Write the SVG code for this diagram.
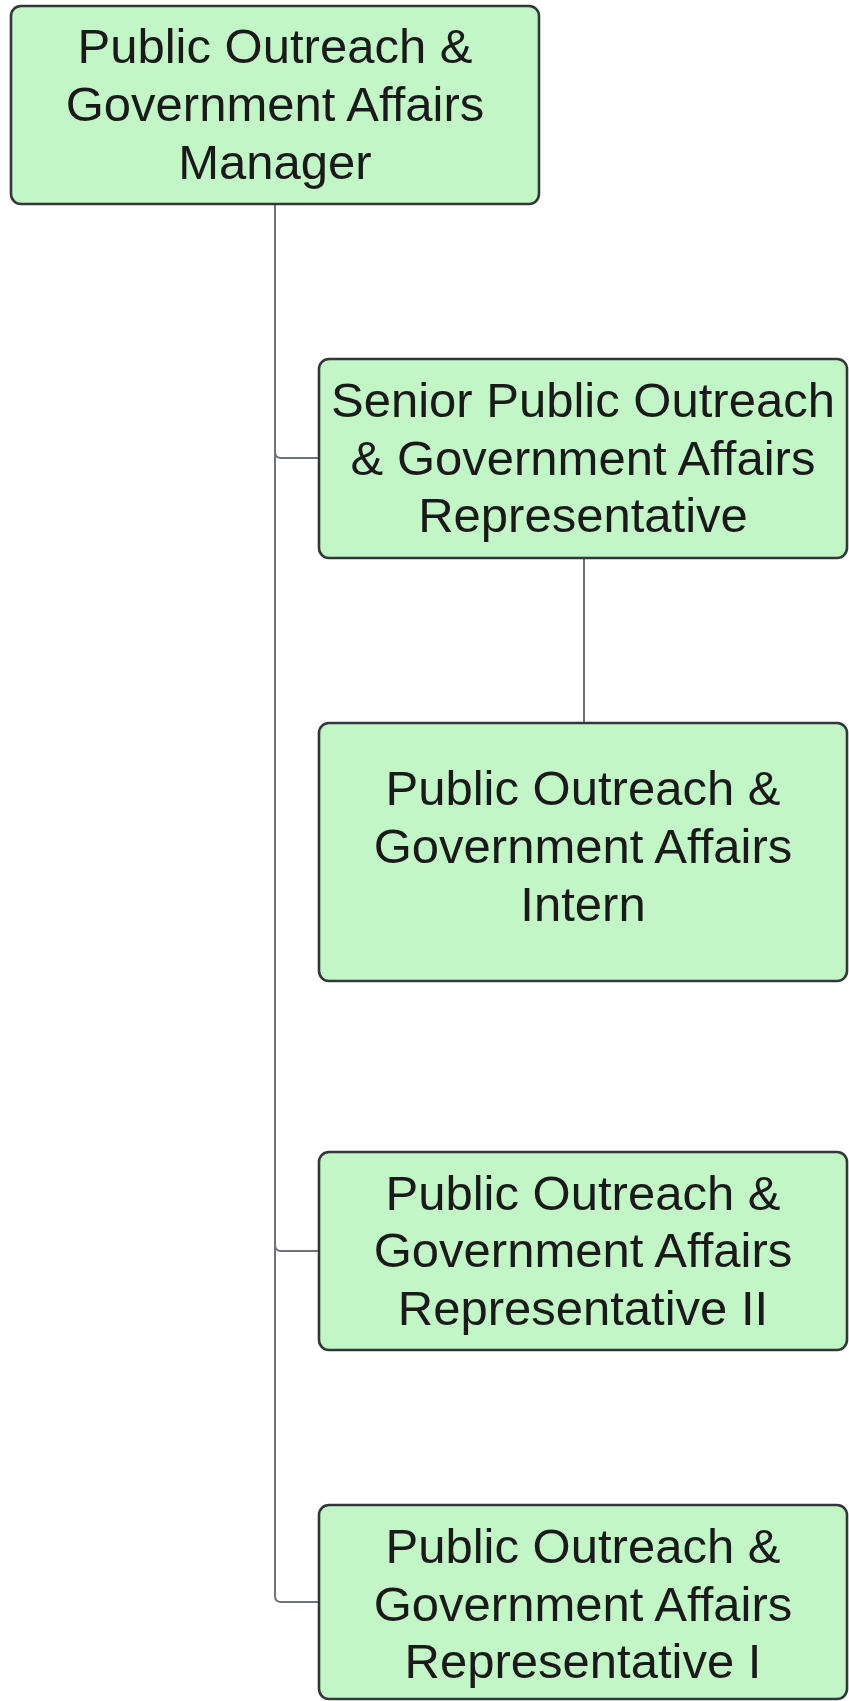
<svg xmlns="http://www.w3.org/2000/svg" width="849" height="1701" viewBox="0 0 849 1701">
<style>
.box{fill:#c2f6c7;stroke:#34373a;stroke-width:2.6}
.t{font-family:"Liberation Sans",Arial,sans-serif;font-size:49px;fill:#1a1a1a;text-anchor:middle}
.c{fill:none;stroke:#6f737b;stroke-width:2}
</style>
<rect width="849" height="1701" fill="#ffffff"/>
<g id="connectors">
<path class="c" d="M275 204 V1596 Q275 1602 281 1602 H319"/>
<path class="c" d="M275 452 Q275 458 281 458 H319"/>
<path class="c" d="M275 1245 Q275 1251 281 1251 H319"/>
<path class="c" d="M584 558 V723"/>
</g>
<g id="manager">
<rect class="box" x="11" y="6" width="528" height="198" rx="10"/>
<text class="t" x="275" y="63">Public Outreach &amp;</text>
<text class="t" x="275" y="121">Government Affairs</text>
<text class="t" x="275" y="179">Manager</text>
</g>
<g id="senior">
<rect class="box" x="319" y="359" width="528" height="199" rx="10"/>
<text class="t" x="583" y="417">Senior Public Outreach</text>
<text class="t" x="583" y="475">&amp; Government Affairs</text>
<text class="t" x="583" y="532">Representative</text>
</g>
<g id="intern">
<rect class="box" x="319" y="723" width="528" height="258" rx="10"/>
<text class="t" x="583" y="805">Public Outreach &amp;</text>
<text class="t" x="583" y="863">Government Affairs</text>
<text class="t" x="583" y="921">Intern</text>
</g>
<g id="rep2">
<rect class="box" x="319" y="1152" width="528" height="198" rx="10"/>
<text class="t" x="583" y="1210">Public Outreach &amp;</text>
<text class="t" x="583" y="1267">Government Affairs</text>
<text class="t" x="583" y="1325">Representative II</text>
</g>
<g id="rep1">
<rect class="box" x="319" y="1505" width="528" height="194" rx="10"/>
<text class="t" x="583" y="1563">Public Outreach &amp;</text>
<text class="t" x="583" y="1621">Government Affairs</text>
<text class="t" x="583" y="1678">Representative I</text>
</g>
</svg>
